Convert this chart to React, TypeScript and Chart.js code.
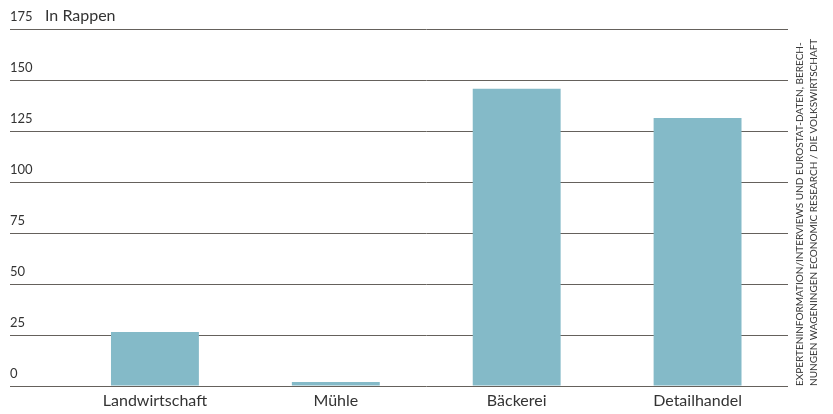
import React, { useEffect, useRef } from "react";
import { Chart, registerables } from "chart.js";

Chart.register(...registerables);

const categories = ["Landwirtschaft", "Mühle", "Bäckerei", "Detailhandel"];
const values = [26.5, 2, 145.7, 131.4];
const yMin = 0;
const yMax = 175;
const yStep = 25;
const unitLabel = "In Rappen";
const sourceLines = [
  "EXPERTENINFORMATION/INTERVIEWS UND EUROSTAT-DATEN, BERECH-",
  "NUNGEN WAGENINGEN ECONOMIC RESEARCH / DIE VOLKSWIRTSCHAFT",
];

const FONT = "Lato, 'Noto Sans', sans-serif";
const TEXT = "#333333";
const GRID = "#65615c";
const BAR = "#84bac8";

export default function App() {
  const ref = useRef<HTMLCanvasElement | null>(null);

  useEffect(() => {
    if (!ref.current) return;
    const chart = new Chart(ref.current, {
      type: "bar",
      data: {
        labels: categories,
        datasets: [
          {
            data: values,
            backgroundColor: BAR,
            borderWidth: 0,
            categoryPercentage: 1,
            barPercentage: 0.486,
          },
        ],
      },
      options: {
        animation: false,
        responsive: true,
        maintainAspectRatio: false,
        layout: { padding: { left: 2, right: 37, top: 21, bottom: 0 } },
        plugins: { legend: { display: false }, tooltip: { enabled: false } },
        scales: {
          x: {
            grid: { display: false, drawTicks: false },
            border: { display: false },
            ticks: {
              color: TEXT,
              font: { family: FONT, size: 16 },
              padding: 5,
              maxRotation: 0,
            },
            afterFit: (s: any) => {
              s.height = 28;
            },
          },
          y: {
            min: yMin,
            max: yMax,
            grid: {
              color: GRID,
              lineWidth: 1,
              drawTicks: true,
              tickLength: 54.5,
            },
            border: { display: false },
            ticks: {
              stepSize: yStep,
              color: TEXT,
              font: { family: FONT, size: 13 },
              crossAlign: "far",
              labelOffset: -12,
              padding: 0,
            },
            afterFit: (s: any) => {
              s.width = 54.5;
            },
          },
        },
      },
    });
    return () => chart.destroy();
  }, []);

  return (
    <div style={{ position: "relative", width: 817, height: 406, marginBottom: -8 }}>
      <canvas ref={ref} />
      <div
        style={{
          position: "absolute",
          left: 37,
          top: 0,
          fontFamily: FONT,
          fontSize: 16,
          color: TEXT,
          lineHeight: "14px",
          whiteSpace: "nowrap",
        }}
      >
        {unitLabel}
      </div>
      <div
        style={{
          position: "absolute",
          left: 784,
          top: 378,
          width: 360,
          transformOrigin: "top left",
          transform: "rotate(-90deg)",
          fontFamily: FONT,
          fontSize: 10,
          lineHeight: "14px",
          color: TEXT,
          whiteSpace: "nowrap",
        }}
      >
        {sourceLines.map((l, i) => (
          <div key={i}>{l}</div>
        ))}
      </div>
    </div>
  );
}
